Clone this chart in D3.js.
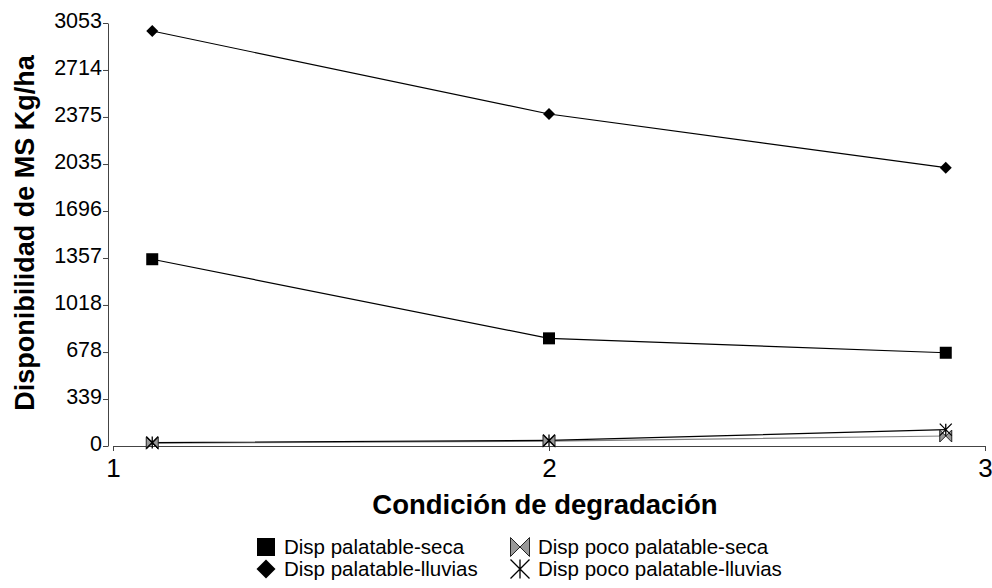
<!DOCTYPE html>
<html><head><meta charset="utf-8">
<script src="https://cdn.jsdelivr.net/npm/d3@7"></script>
<style>body{margin:0;background:#fff}svg{display:block;font-family:"Liberation Sans",Arial,sans-serif}</style>
</head><body>
<svg id="c" width="992" height="588"></svg>
<script>
const xValues = [1.09, 2, 2.91];
const palatableSeca = [1348, 777, 673];
const palatableLluvias = [2995, 2396, 2009];
const pocoSeca = [20, 35, 72];
const pocoLluvias = [25, 40, 118];
const yTicks = [0, 339, 678, 1018, 1357, 1696, 2035, 2375, 2714, 3053];
const xTicks = [1, 2, 3];
const seriesNames = ["Disp palatable-seca", "Disp palatable-lluvias", "Disp poco palatable-seca", "Disp poco palatable-lluvias"];

const svg = d3.select("#c");
const x = d3.scaleLinear().domain([1, 3]).range([113, 985]);
const y = d3.scaleLinear().domain([0, 3053]).range([446, 23]);

// y axis
const ya = svg.append("g").attr("transform", "translate(108,0)")
  .call(d3.axisLeft(y).tickValues(yTicks).tickSize(5).tickSizeOuter(0).tickFormat(d => d));
ya.select(".domain").attr("stroke", "#444");
ya.selectAll(".tick line").attr("stroke", "#444");
ya.selectAll(".tick text").attr("font-size", 21.5).attr("fill", "#000").attr("x", -6).attr("dy", "0.2em")
  .attr("font-family", "Liberation Sans, Arial, sans-serif");

// x axis
const xa = svg.append("g").attr("transform", "translate(0,446)")
  .call(d3.axisBottom(x).tickValues(xTicks).tickSize(5).tickSizeOuter(0).tickFormat(d3.format("d")));
xa.select(".domain").attr("stroke", "#444");
xa.selectAll(".tick line").attr("stroke", "#444");
xa.selectAll(".tick text").attr("font-size", 26).attr("fill", "#000").attr("y", 13)
  .attr("font-family", "Liberation Sans, Arial, sans-serif");

// titles
svg.append("text").attr("x", 545).attr("y", 514).attr("text-anchor", "middle")
  .attr("font-size", 27.5).attr("font-weight", "bold").text("Condición de degradación");
svg.append("text").attr("transform", "translate(34,233) rotate(-90)").attr("text-anchor", "middle")
  .attr("font-size", 27).attr("font-weight", "bold").text("Disponibilidad de MS Kg/ha");

const line = d3.line().x((d, i) => x(xValues[i])).y(d => y(d));
const series = [
  {v: palatableSeca, stroke: "#000", m: "square"},
  {v: palatableLluvias, stroke: "#000", m: "diamond"},
  {v: pocoSeca, stroke: "#808080", m: "bowtie"},
  {v: pocoLluvias, stroke: "#000", m: "star"}
];

function marker(g, type, cx, cy, s) {
  const h = s / 2;
  if (type === "square") {
    g.append("rect").attr("x", cx - h).attr("y", cy - h).attr("width", s).attr("height", s).attr("fill", "#000");
  } else if (type === "diamond") {
    g.append("path").attr("d", `M${cx},${cy - h}L${cx + h},${cy}L${cx},${cy + h}L${cx - h},${cy}Z`).attr("fill", "#000");
  } else if (type === "bowtie") {
    g.append("path").attr("d", `M${cx - h},${cy - h}L${cx},${cy}L${cx - h},${cy + h}Z M${cx + h},${cy - h}L${cx},${cy}L${cx + h},${cy + h}Z`)
      .attr("fill", "#999").attr("stroke", "#222").attr("stroke-width", 1);
  } else {
    g.append("path").attr("d", `M${cx},${cy - h}L${cx},${cy + h}M${cx - h},${cy - h}L${cx + h},${cy + h}M${cx + h},${cy - h}L${cx - h},${cy + h}`)
      .attr("stroke", "#000").attr("stroke-width", 1.3).attr("fill", "none");
  }
}

series.forEach(s => {
  svg.append("path").datum(s.v).attr("d", line).attr("fill", "none").attr("stroke", s.stroke).attr("stroke-width", 1.2);
});
series.forEach(s => {
  const g = svg.append("g");
  s.v.forEach((d, i) => marker(g, s.m, x(xValues[i]), y(d), 12));
});

// legend
const legPos = [[266, 547], [266, 569], [520, 547], [520, 569]];
series.forEach((s, i) => {
  const g = svg.append("g");
  const [lx, ly] = legPos[i];
  marker(g, s.m, lx, ly, s.m === "square" ? 18 : 19);
  g.append("text").attr("x", lx + 18).attr("y", ly + 7).attr("font-size", 20.5).text(seriesNames[i]);
});
</script>
</body></html>
